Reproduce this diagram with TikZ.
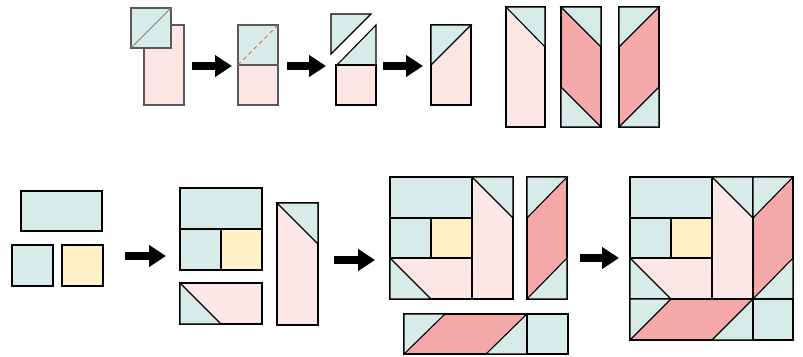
\documentclass[tikz,border=0pt]{standalone}
\usetikzlibrary{arrows.meta}
\definecolor{tealc}{RGB}{215,235,232}
\definecolor{pinkc}{RGB}{253,230,230}
\definecolor{rosec}{RGB}{245,168,168}
\definecolor{creamc}{RGB}{255,240,198}
\definecolor{cutc}{RGB}{232,96,60}
\begin{document}
\begin{tikzpicture}[x=1pt, y=-1pt, line join=miter,
    piece/.style={draw=black, line width=1.1pt},
    teal/.style={piece, fill=tealc},
    pink/.style={piece, fill=pinkc},
    rose/.style={piece, fill=rosec},
    cream/.style={piece, fill=creamc},
    soft/.style={draw=black!65},
    cut/.style={draw=cutc, line width=1pt, dash pattern=on 4pt off 3.5pt},
    bigarrow/.style={line width=7.5pt, -{Triangle[length=17pt, width=21pt]}}]

    \useasboundingbox (0,0) rectangle (803,356);

    \coordinate (a1) at (192,66);  \coordinate (b1) at (232,66);
    \coordinate (a2) at (287,66);  \coordinate (b2) at (326,66);
    \coordinate (a3) at (383,66);  \coordinate (b3) at (423,66);
    \coordinate (a4) at (125,256); \coordinate (b4) at (166,256);
    \coordinate (a5) at (334,260); \coordinate (b5) at (375,260);
    \coordinate (a6) at (580,258); \coordinate (b6) at (619,258);

    \draw[pink, soft] (144,25) rectangle (184,105);
    \draw[teal, soft] (131,8) rectangle (171,48);
    \draw[black!50, line width=0.9pt] (131,48) -- (171,8);

    \draw[teal, soft] (238,25) rectangle (278,65);
    \draw[pink, soft] (238,65) rectangle (278,105);
    \draw[cut] (238,65) -- (278,25);

    \draw[teal] (331,14) -- (371,14) -- (331,54) -- cycle;
    \draw[teal] (337,65) -- (376,25) -- (376,65) -- cycle;
    \draw[pink] (336,65) rectangle (376,105);

    \draw[pink] (431,25) rectangle (471,105);
    \draw[teal] (431,25) -- (471,25) -- (431,65) -- cycle;

    \draw[pink] (506,7) rectangle (545,127);
    \draw[teal] (506,7) -- (545,7) -- (545,47) -- cycle;
    \draw[rose] (561,7) rectangle (601,127);
    \draw[teal] (561,7) -- (601,7) -- (601,47) -- cycle;
    \draw[teal] (561,87) -- (601,127) -- (561,127) -- cycle;
    \draw[rose] (619,7) rectangle (659,127);
    \draw[teal] (619,7) -- (659,7) -- (619,47) -- cycle;
    \draw[teal] (659,87) -- (659,127) -- (619,127) -- cycle;

    \draw[teal] (21,191) rectangle (102,231);
    \draw[teal] (12,245) rectangle (53,286);
    \draw[cream] (62,245) rectangle (103,286);

    \draw[teal] (180,188) rectangle (262,229);
    \draw[teal] (180,229) rectangle (221,270);
    \draw[cream] (221,229) rectangle (262,270);
    \draw[pink] (180,283) rectangle (262,324);
    \draw[teal] (180,283) -- (221,324) -- (180,324) -- cycle;
    \draw[pink] (277,203) rectangle (318,325);
    \draw[teal] (277,203) -- (318,203) -- (318,244) -- cycle;

    \draw[teal] (390,177) rectangle (472,218);
    \draw[teal] (390,218) rectangle (431,258);
    \draw[cream] (431,218) rectangle (472,258);
    \draw[pink] (390,258) rectangle (472,299);
    \draw[teal] (390,258) -- (431,299) -- (390,299) -- cycle;
    \draw[pink] (472,177) rectangle (513,299);
    \draw[teal] (472,177) -- (513,177) -- (513,218) -- cycle;

    \draw[rose] (527,177) rectangle (567,299);
    \draw[teal] (527,177) -- (567,177) -- (527,218) -- cycle;
    \draw[teal] (567,258) -- (567,299) -- (527,299) -- cycle;

    \draw[rose] (404,314) rectangle (527,354);
    \draw[teal] (404,314) -- (445,314) -- (404,354) -- cycle;
    \draw[teal] (527,314) -- (527,354) -- (486,354) -- cycle;
    \draw[teal] (527,314) rectangle (568,354);

    \draw[teal] (630,177) rectangle (712,218);
    \draw[teal] (630,218) rectangle (671,258);
    \draw[cream] (671,218) rectangle (712,258);
    \draw[pink] (630,258) rectangle (712,299);
    \draw[teal] (630,258) -- (671,299) -- (630,299) -- cycle;
    \draw[pink] (712,177) rectangle (753,299);
    \draw[teal] (712,177) -- (753,177) -- (753,218) -- cycle;
    \draw[rose] (753,177) rectangle (793,299);
    \draw[teal] (753,177) -- (793,177) -- (753,218) -- cycle;
    \draw[teal] (793,258) -- (793,299) -- (753,299) -- cycle;
    \draw[rose] (630,299) rectangle (753,340);
    \draw[teal] (630,299) -- (671,299) -- (630,340) -- cycle;
    \draw[teal] (753,299) -- (753,340) -- (712,340) -- cycle;
    \draw[teal] (753,299) rectangle (793,340);

    \path
        (a1) edge[bigarrow] (b1)
        (a2) edge[bigarrow] (b2)
        (a3) edge[bigarrow] (b3)
        (a4) edge[bigarrow] (b4)
        (a5) edge[bigarrow] (b5)
        (a6) edge[bigarrow] (b6)
        ;
\end{tikzpicture}
\end{document}
